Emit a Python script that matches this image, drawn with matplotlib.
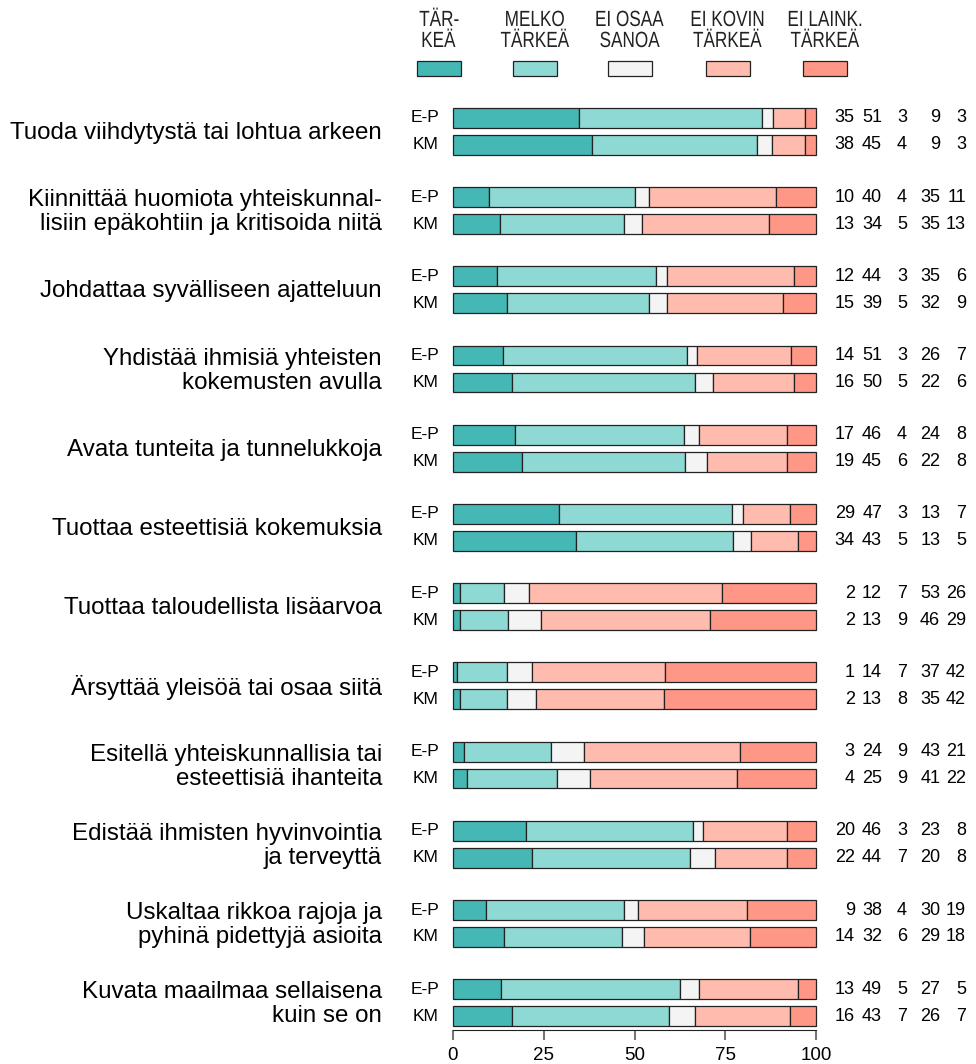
import matplotlib

matplotlib.use("Agg")

import matplotlib.pyplot as plt
import matplotlib.transforms as mtransforms
import numpy as np
from matplotlib.font_manager import FontProperties
from matplotlib.patches import PathPatch, Rectangle
from matplotlib.textpath import TextPath

plt.rcParams["font.family"] = ["Liberation Sans", "DejaVu Sans"]

CATEGORIES = [
    "Tuoda viihdytystä tai lohtua arkeen",
    "Kiinnittää huomiota yhteiskunnal-\nlisiin epäkohtiin ja kritisoida niitä",
    "Johdattaa syvälliseen ajatteluun",
    "Yhdistää ihmisiä yhteisten\nkokemusten avulla",
    "Avata tunteita ja tunnelukkoja",
    "Tuottaa esteettisiä kokemuksia",
    "Tuottaa taloudellista lisäarvoa",
    "Ärsyttää yleisöä tai osaa siitä",
    "Esitellä yhteiskunnallisia tai\nesteettisiä ihanteita",
    "Edistää ihmisten hyvinvointia\nja terveyttä",
    "Uskaltaa rikkoa rajoja ja\npyhinä pidettyjä asioita",
    "Kuvata maailmaa sellaisena\nkuin se on",
]
GROUPS = ["E-P", "KM"]
RESPONSES = [("TÄR-", "KEÄ"), ("MELKO", "TÄRKEÄ"), ("EI OSAA", "SANOA"),
             ("EI KOVIN", "TÄRKEÄ"), ("EI LAINK.", "TÄRKEÄ")]
COLORS = ["#45b8b5", "#8fd9d4", "#f4f4f4", "#ffbbad", "#ff9786"]

# percentages per category: E-P row, then KM row
EP = [
    [35, 51, 3, 9, 3],
    [10, 40, 4, 35, 11],
    [12, 44, 3, 35, 6],
    [14, 51, 3, 26, 7],
    [17, 46, 4, 24, 8],
    [29, 47, 3, 13, 7],
    [2, 12, 7, 53, 26],
    [1, 14, 7, 37, 42],
    [3, 24, 9, 43, 21],
    [20, 46, 3, 23, 8],
    [9, 38, 4, 30, 19],
    [13, 49, 5, 27, 5],
]
KM = [
    [38, 45, 4, 9, 3],
    [13, 34, 5, 35, 13],
    [15, 39, 5, 32, 9],
    [16, 50, 5, 22, 6],
    [19, 45, 6, 22, 8],
    [34, 43, 5, 13, 5],
    [2, 13, 9, 46, 29],
    [2, 13, 8, 35, 42],
    [4, 25, 9, 41, 22],
    [22, 44, 7, 20, 8],
    [14, 32, 6, 29, 18],
    [16, 43, 7, 26, 7],
]

W, H = 976, 1064
fig = plt.figure(figsize=(W / 100, H / 100), dpi=100)
ax = fig.add_axes([453 / W, 1 - 1030 / H, (816 - 453) / W, (1030 - 100) / H])

GAP = 0.34  # offset of KM bar below E-P bar
BAR_H = 0.25
NUM_X = [110.7, 118.2, 125.1, 134.2, 141.3]  # right edges of number columns
lab_tr = mtransforms.blended_transform_factory(fig.transFigure, ax.transData)

for i, cat in enumerate(CATEGORIES):
    for j, rows in enumerate((EP, KM)):
        vals = np.array(rows[i], dtype=float)
        pct = vals / vals.sum() * 100
        y = i + j * GAP
        left = 0.0
        for k, v in enumerate(pct):
            ax.barh(y, v, left=left, height=BAR_H, color=COLORS[k],
                    edgecolor="#222222", linewidth=0.9, clip_on=False)
            left += v
        for k, v in enumerate(rows[i]):
            ax.text(NUM_X[k], y, str(v), ha="right", va="center",
                    fontsize=13, clip_on=False)
        fig.text(439 / W, 0, GROUPS[j], ha="right", va="center",
                 fontsize=12.5, transform=lab_tr).set_y(y)
    fig.text(382 / W, 0, cat, ha="right", va="center", fontsize=17.4,
             linespacing=1.12, transform=lab_tr).set_y(i + GAP / 2 + 0.02)

ax.set_xlim(0, 100)
ax.set_ylim(11.515, -0.227)
ax.set_xticks([0, 25, 50, 75, 100])
ax.set_yticks([])
for side in ("top", "right", "left"):
    ax.spines[side].set_visible(False)
ax.spines["bottom"].set_color("#222222")
ax.tick_params(axis="x", length=7, color="#777777", width=1.5,
               labelsize=13.5, pad=5)
ax.patch.set_visible(False)

# legend drawn by hand; its header text is condensed, so draw it as paths
px = mtransforms.Affine2D().scale(1 / W, 1 / H) + fig.transFigure
prop = FontProperties(family="Liberation Sans")
LEG_X = [439, 535, 630, 727.5, 825]
for x, lines, col in zip(LEG_X, RESPONSES, COLORS):
    for line, base in zip(lines, (26, 47)):
        tp = TextPath((0, 0), line, size=22, prop=prop)
        ext = tp.get_extents()
        cx = (ext.x0 + ext.x1) / 2
        tr = (mtransforms.Affine2D().translate(-cx, 0).scale(0.78, 1)
              .translate(x, H - base))
        fig.patches.append(PathPatch(tr.transform_path(tp), facecolor="#222222",
                                     edgecolor="none", transform=px, figure=fig))
    fig.patches.append(Rectangle(((x - 22) / W, 1 - 76 / H), 44 / W, 15 / H,
                                 facecolor=col, edgecolor="#222222",
                                 linewidth=0.9, transform=fig.transFigure,
                                 figure=fig))

fig.savefig("out.png", dpi=100)
